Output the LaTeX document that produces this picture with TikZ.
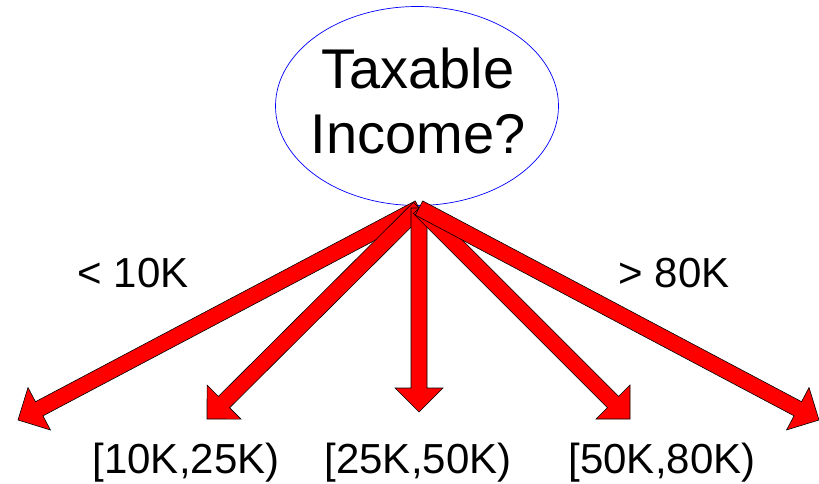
\documentclass[tikz,border=0pt]{standalone}
\usepackage{fontspec}
\setmainfont{Liberation Sans}
\usetikzlibrary{shapes.geometric,calc}
\tikzset{
  qnode/.style={draw=blue, line width=0.7pt, ellipse, inner sep=0pt,
    minimum width=283pt, minimum height=199pt},
  qtext/.style={align=center, inner sep=0pt,
    font=\fontsize{56pt}{65pt}\selectfont},
  lbl/.style={anchor=base, inner sep=0pt, font=\fontsize{42pt}{48pt}\selectfont},
  arrowbox/.style={fill=red, draw=black, line width=0.6pt, line join=miter}
}
\newcommand{\blockarrow}[2]{%
  \coordinate (H) at ($(#2)!24pt!(#1)$);
  \draw[arrowbox] ($(#1)!8pt!90:(#2)$) -- ($(H)!8pt!-90:(#1)$) -- ($(H)!24pt!-90:(#1)$)
    -- (#2) -- ($(H)!24pt!90:(#1)$) -- ($(H)!8pt!90:(#1)$) -- ($(#1)!8pt!-90:(#2)$) -- cycle;
}
\begin{document}
\begin{tikzpicture}[x=1pt,y=-1pt]
\useasboundingbox (0,0) rectangle (819,484);
\node[qnode] (q) at (417,106) {};
\node[qtext] (qt) at (418,101) {Taxable\\Income?};
\coordinate (s) at (419,208);
\coordinate (e1) at (18,420);
\coordinate (e2) at (207,419);
\coordinate (e3) at (419,412);
\coordinate (e4) at (630,419);
\coordinate (e5) at (819,420);
\blockarrow{s}{e1}
\blockarrow{s}{e2}
\blockarrow{s}{e3}
\blockarrow{s}{e4}
\blockarrow{s}{e5}
\node[lbl] (l1) at (133,287) {< 10K};
\node[lbl] (l5) at (674,287) {> 80K};
\node[lbl] (b2) at (186,473) {[10K,25K)};
\node[lbl] (b3) at (418,473) {[25K,50K)};
\node[lbl] (b4) at (662,473) {[50K,80K)};
\end{tikzpicture}
\end{document}
